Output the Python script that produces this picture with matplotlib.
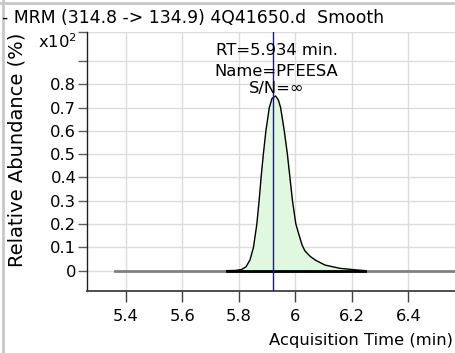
import numpy as np
import matplotlib.pyplot as plt
from matplotlib.lines import Line2D

plt.rcParams['font.family'] = ['DejaVu Sans']

# chromatogram trace (acquisition time, relative abundance x10^2)
trace_start = 5.362
trace_end = 6.565
peak_t = [5.757, 5.790, 5.810, 5.826, 5.840, 5.852, 5.864, 5.872, 5.879, 5.887,
          5.896, 5.908, 5.918, 5.930, 5.940, 5.948, 5.961, 5.972, 5.981, 5.990,
          6.002, 6.014, 6.024, 6.034, 6.052, 6.070, 6.105, 6.158, 6.217, 6.247]
peak_y = [0.0, 0.001, 0.005, 0.017, 0.047, 0.100, 0.200, 0.300, 0.400, 0.500,
          0.600, 0.700, 0.740, 0.750, 0.733, 0.700, 0.600, 0.500, 0.400, 0.300,
          0.200, 0.150, 0.110, 0.085, 0.062, 0.046, 0.024, 0.010, 0.003, 0.0]
rt_marker = 5.922

title = '- MRM (314.8 -> 134.9) 4Q41650.d  Smooth'
peak_label = ['RT=5.934 min.', 'Name=PFEESA', 'S/N=∞']
xticks = [5.4, 5.6, 5.8, 6.0, 6.2, 6.4]
xtick_labels = ['5.4', '5.6', '5.8', '6', '6.2', '6.4']
yticks = [0, 0.1, 0.2, 0.3, 0.4, 0.5, 0.6, 0.7, 0.8, 0.9]
ytick_labels = ['0', '0.1', '0.2', '0.3', '0.4', '0.5', '0.6', '0.7', '0.8', '']

fig = plt.figure(figsize=(4.55, 3.53), dpi=100)
ax = fig.add_axes([0.1905, 0.1765, 0.8095, 0.7325])
ax.set_xlim(5.262, 6.565)
ax.set_ylim(-0.086, 1.024)

# grid
ax.set_xticks(xticks)
ax.set_xticklabels(xtick_labels, fontsize=11.8)
ax.set_yticks(yticks)
ax.set_yticklabels(ytick_labels, fontsize=11.8)
ax.set_yticks([ax.get_ylim()[1]], minor=True)
ax.grid(True, color='#dcdcdc', linewidth=1)
ax.set_axisbelow(True)

for s in ['top', 'right']:
    ax.spines[s].set_visible(False)
ax.spines['left'].set_color('#202020')
ax.spines['left'].set_linewidth(1)
ax.spines['bottom'].set_color('#404040')
ax.spines['bottom'].set_linewidth(1.3)
ax.tick_params(axis='x', length=8, width=1, color='#404040', pad=5)
ax.tick_params(axis='y', which='both', length=6.5, width=1, color='#606060', pad=1)
ax.axhline(ax.get_ylim()[1], color='#dcdcdc', linewidth=1)

# full trace (grey) and integrated peak
ax.plot([trace_start, trace_end], [0, 0], color='#808080', linewidth=2, zorder=2)
ax.fill_between(peak_t, peak_y, 0, color='#e0f8e0', zorder=2)
ax.plot(peak_t, peak_y, color='black', linewidth=1, zorder=3)
ax.plot([peak_t[0], peak_t[-1]], [0, 0], color='black', linewidth=2, zorder=3)
ax.axvline(rt_marker, color='#1a1a80', linewidth=1, zorder=4)

# peak annotation
for txt, yy in zip(peak_label, [0.947, 0.857, 0.780]):
    ax.text(5.934, yy, txt, ha='center', va='center', fontsize=11.8, zorder=5)

fig.text(0.004, 1 - 18 / 353, title, ha='left', va='center', fontsize=12.4)
fig.text(77 / 455, 1 - 42 / 353, 'x10$^2$', ha='right', va='center', fontsize=11.8)
fig.text(17 / 455, 1 - 150 / 353, 'Relative Abundance (%)', rotation=90,
         ha='center', va='center', fontsize=14)
fig.text(453 / 455, 1 - 340 / 353, 'Acquisition Time (min)', ha='right',
         va='center', fontsize=11.8)

# outer frame
fig.add_artist(Line2D([0, 1], [1 - 2.5 / 353, 1 - 2.5 / 353], color='#c8c8c8', linewidth=2))
fig.add_artist(Line2D([2.5 / 455, 2.5 / 455], [0, 1], color='#c8c8c8', linewidth=2))

fig.savefig('out.png', dpi=100)
